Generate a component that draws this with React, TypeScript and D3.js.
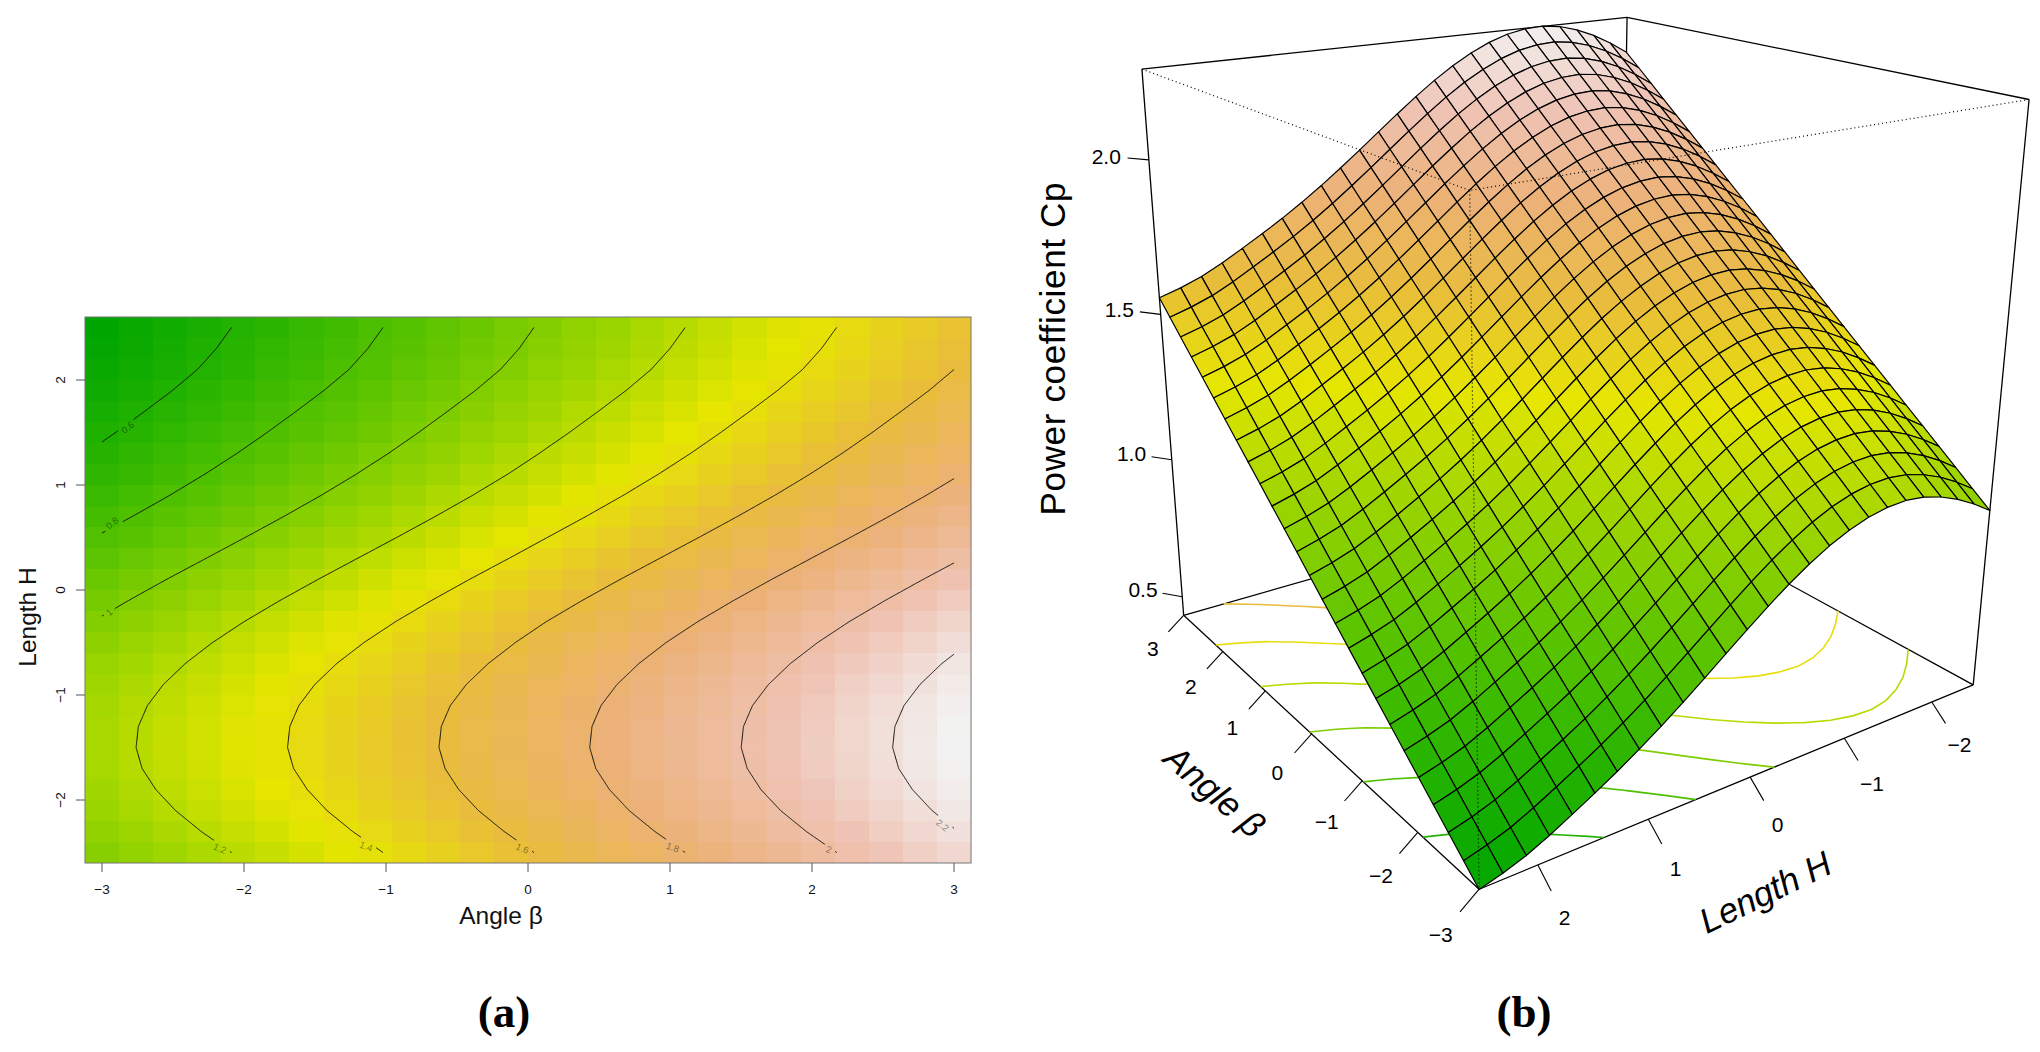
import * as d3 from "d3";

const angleValues = [-3, -2.76, -2.52, -2.28, -2.04, -1.8, -1.56, -1.32, -1.08, -0.84, -0.6, -0.36, -0.12, 0.12, 0.36, 0.6, 0.84, 1.08, 1.32, 1.56, 1.8, 2.04, 2.28, 2.52, 2.76, 3];
const lengthValues = [-2.5, -2.3, -2.1, -1.9, -1.7, -1.5, -1.3, -1.1, -0.9, -0.7, -0.5, -0.3, -0.1, 0.1, 0.3, 0.5, 0.7, 0.9, 1.1, 1.3, 1.5, 1.7, 1.9, 2.1, 2.3, 2.5];
// Cp, one row per length value
const cpRows = [
  [1.029, 1.074, 1.119, 1.164, 1.209, 1.254, 1.299, 1.344, 1.389, 1.434, 1.479, 1.524, 1.569, 1.615, 1.66, 1.705, 1.75, 1.795, 1.84, 1.885, 1.93, 1.975, 2.02, 2.065, 2.11, 2.155],
  [1.069, 1.114, 1.159, 1.204, 1.249, 1.294, 1.339, 1.384, 1.429, 1.474, 1.519, 1.564, 1.609, 1.655, 1.7, 1.745, 1.79, 1.835, 1.88, 1.925, 1.97, 2.015, 2.06, 2.105, 2.15, 2.195],
  [1.103, 1.148, 1.193, 1.238, 1.283, 1.328, 1.373, 1.418, 1.463, 1.508, 1.553, 1.598, 1.643, 1.689, 1.734, 1.779, 1.824, 1.869, 1.914, 1.959, 2.004, 2.049, 2.094, 2.139, 2.184, 2.229],
  [1.129, 1.174, 1.219, 1.264, 1.309, 1.354, 1.399, 1.444, 1.489, 1.534, 1.579, 1.624, 1.669, 1.715, 1.76, 1.805, 1.85, 1.895, 1.94, 1.985, 2.03, 2.075, 2.12, 2.165, 2.21, 2.255],
  [1.147, 1.192, 1.237, 1.282, 1.327, 1.372, 1.417, 1.462, 1.507, 1.552, 1.597, 1.642, 1.687, 1.733, 1.778, 1.823, 1.868, 1.913, 1.958, 2.003, 2.048, 2.093, 2.138, 2.183, 2.228, 2.273],
  [1.155, 1.2, 1.245, 1.29, 1.335, 1.38, 1.425, 1.47, 1.515, 1.56, 1.605, 1.65, 1.695, 1.741, 1.786, 1.831, 1.876, 1.921, 1.966, 2.011, 2.056, 2.101, 2.146, 2.191, 2.236, 2.281],
  [1.152, 1.197, 1.242, 1.287, 1.332, 1.377, 1.422, 1.467, 1.512, 1.557, 1.602, 1.647, 1.692, 1.738, 1.783, 1.828, 1.873, 1.918, 1.963, 2.008, 2.053, 2.098, 2.143, 2.188, 2.233, 2.278],
  [1.14, 1.185, 1.23, 1.275, 1.32, 1.365, 1.41, 1.455, 1.5, 1.545, 1.59, 1.635, 1.68, 1.726, 1.771, 1.816, 1.861, 1.906, 1.951, 1.996, 2.041, 2.086, 2.131, 2.176, 2.221, 2.266],
  [1.119, 1.164, 1.209, 1.254, 1.299, 1.344, 1.389, 1.434, 1.479, 1.524, 1.569, 1.614, 1.659, 1.705, 1.75, 1.795, 1.84, 1.885, 1.93, 1.975, 2.02, 2.065, 2.11, 2.155, 2.2, 2.245],
  [1.09, 1.135, 1.18, 1.225, 1.27, 1.315, 1.36, 1.405, 1.45, 1.495, 1.54, 1.585, 1.63, 1.676, 1.721, 1.766, 1.811, 1.856, 1.901, 1.946, 1.991, 2.036, 2.081, 2.126, 2.171, 2.216],
  [1.054, 1.099, 1.144, 1.189, 1.234, 1.279, 1.324, 1.369, 1.414, 1.459, 1.504, 1.549, 1.594, 1.64, 1.685, 1.73, 1.775, 1.82, 1.865, 1.91, 1.955, 2.0, 2.045, 2.09, 2.135, 2.18],
  [1.012, 1.057, 1.102, 1.147, 1.192, 1.237, 1.282, 1.327, 1.372, 1.417, 1.462, 1.507, 1.552, 1.598, 1.643, 1.688, 1.733, 1.778, 1.823, 1.868, 1.913, 1.958, 2.003, 2.048, 2.093, 2.138],
  [0.965, 1.01, 1.055, 1.1, 1.145, 1.19, 1.235, 1.28, 1.325, 1.37, 1.415, 1.46, 1.505, 1.551, 1.596, 1.641, 1.686, 1.731, 1.776, 1.821, 1.866, 1.911, 1.956, 2.001, 2.046, 2.091],
  [0.915, 0.96, 1.005, 1.05, 1.095, 1.14, 1.185, 1.23, 1.275, 1.32, 1.365, 1.41, 1.455, 1.501, 1.546, 1.591, 1.636, 1.681, 1.726, 1.771, 1.816, 1.861, 1.906, 1.951, 1.996, 2.041],
  [0.863, 0.908, 0.953, 0.998, 1.043, 1.088, 1.133, 1.178, 1.223, 1.268, 1.313, 1.358, 1.403, 1.449, 1.494, 1.539, 1.584, 1.629, 1.674, 1.719, 1.764, 1.809, 1.854, 1.899, 1.944, 1.989],
  [0.811, 0.856, 0.901, 0.946, 0.991, 1.036, 1.081, 1.126, 1.171, 1.216, 1.261, 1.306, 1.351, 1.397, 1.442, 1.487, 1.532, 1.577, 1.622, 1.667, 1.712, 1.757, 1.802, 1.847, 1.892, 1.937],
  [0.76, 0.805, 0.85, 0.895, 0.94, 0.985, 1.03, 1.075, 1.12, 1.165, 1.21, 1.255, 1.3, 1.346, 1.391, 1.436, 1.481, 1.526, 1.571, 1.616, 1.661, 1.706, 1.751, 1.796, 1.841, 1.886],
  [0.711, 0.756, 0.801, 0.846, 0.891, 0.936, 0.981, 1.026, 1.071, 1.116, 1.161, 1.206, 1.251, 1.297, 1.342, 1.387, 1.432, 1.477, 1.522, 1.567, 1.612, 1.657, 1.702, 1.747, 1.792, 1.837],
  [0.665, 0.71, 0.755, 0.8, 0.845, 0.89, 0.935, 0.98, 1.025, 1.07, 1.115, 1.16, 1.205, 1.251, 1.296, 1.341, 1.386, 1.431, 1.476, 1.521, 1.566, 1.611, 1.656, 1.701, 1.746, 1.791],
  [0.622, 0.667, 0.712, 0.757, 0.802, 0.847, 0.892, 0.937, 0.982, 1.027, 1.072, 1.117, 1.162, 1.208, 1.253, 1.298, 1.343, 1.388, 1.433, 1.478, 1.523, 1.568, 1.613, 1.658, 1.703, 1.748],
  [0.582, 0.627, 0.672, 0.717, 0.762, 0.807, 0.852, 0.897, 0.942, 0.987, 1.032, 1.077, 1.122, 1.168, 1.213, 1.258, 1.303, 1.348, 1.393, 1.438, 1.483, 1.528, 1.573, 1.618, 1.663, 1.708],
  [0.544, 0.589, 0.634, 0.679, 0.724, 0.769, 0.814, 0.859, 0.904, 0.949, 0.994, 1.039, 1.084, 1.13, 1.175, 1.22, 1.265, 1.31, 1.355, 1.4, 1.445, 1.49, 1.535, 1.58, 1.625, 1.67],
  [0.507, 0.552, 0.597, 0.642, 0.687, 0.732, 0.777, 0.822, 0.867, 0.912, 0.957, 1.002, 1.047, 1.093, 1.138, 1.183, 1.228, 1.273, 1.318, 1.363, 1.408, 1.453, 1.498, 1.543, 1.588, 1.633],
  [0.474, 0.519, 0.564, 0.609, 0.654, 0.699, 0.744, 0.789, 0.834, 0.879, 0.924, 0.969, 1.014, 1.06, 1.105, 1.15, 1.195, 1.24, 1.285, 1.33, 1.375, 1.42, 1.465, 1.51, 1.555, 1.6],
  [0.449, 0.494, 0.539, 0.584, 0.629, 0.674, 0.719, 0.764, 0.809, 0.854, 0.899, 0.944, 0.989, 1.035, 1.08, 1.125, 1.17, 1.215, 1.26, 1.305, 1.35, 1.395, 1.44, 1.485, 1.53, 1.575],
  [0.429, 0.474, 0.519, 0.564, 0.609, 0.654, 0.699, 0.744, 0.789, 0.834, 0.879, 0.924, 0.969, 1.015, 1.06, 1.105, 1.15, 1.195, 1.24, 1.285, 1.33, 1.375, 1.42, 1.465, 1.51, 1.555],
];

const angleTicks = [-3, -2, -1, 0, 1, 2, 3];
const lengthTicks = [-2, -1, 0, 1, 2];
const cpTicks = [0.5, 1, 1.5, 2];
const contourLevels = [0.6, 0.8, 1, 1.2, 1.4, 1.6, 1.8, 2, 2.2];
const contourLabels = ["0.6", "0.8", "1", "1.2", "1.4", "1.6", "1.8", "2", "2.2"];
const labelAngle = [-2.82, -2.93, -2.95, -2.17, -1.14, -0.04, 1.02, 2.12, 2.92];
const labelLength = [1.55, 0.64, -0.21, -2.46, -2.44, -2.46, -2.45, -2.47, -2.24];
const labelRotation = [-38, -38, -40, 22, 20, 22, 20, 20, 38];
const terrain = ["#00A600", "#2DB600", "#63C600", "#A0D600", "#E6E600", "#E9BD3A", "#ECB176", "#EFC2B3", "#F2F2F2"];

const cpMin = 0.43;
const cpMax = 2.28;
const cellAngle = 0.24;
const cellLength = 0.2;
const colorOf = d3
  .scaleLinear<string>()
  .domain(terrain.map((_, i) => cpMin + ((cpMax - cpMin) * i) / (terrain.length - 1)))
  .range(terrain)
  .clamp(true);

// panel (a) scales
const xA = d3.scaleLinear().domain([-3, 3]).range([102, 954]);
const yA = d3.scaleLinear().domain([-2, 2]).range([800, 380]);

// panel (b): corners of the persp box as [angle, length, cp, px, py]
const boxCalibration = [
  [3, 2.5, cpMin, 1185, 617.4],
  [-3, 2.5, cpMin, 1478.7, 888.9],
  [-3, -2.5, cpMin, 1975, 684.6],
  [3, -2.5, cpMin, 1616, 491],
  [3, 2.5, cpMax, 1141, 70.3],
  [-3, 2.5, cpMax, 1469, 191],
  [-3, -2.5, cpMax, 2028, 99.7],
  [3, -2.5, cpMax, 1629.6, 17.6],
  [3, 2.5, 2, 1148, 159],
  [3, 2.5, 1.5, 1160, 312.7],
  [3, 2.5, 1, 1173.5, 458.7],
];

const norm = (a: number, l: number, c: number) => [a / 3, l / 2.5, (c - 1.355) / 0.925];

function fitProjection() {
  const rows: number[][] = [];
  boxCalibration.forEach(([a, l, c, px, py]) => {
    const [X, Y, Z] = norm(a, l, c);
    const u = px / 1000;
    const v = py / 1000;
    rows.push([X, Y, Z, 1, 0, 0, 0, 0, -u * X, -u * Y, -u * Z, u]);
    rows.push([0, 0, 0, 0, X, Y, Z, 1, -v * X, -v * Y, -v * Z, v]);
  });
  const n = 11;
  const m = d3.range(n).map((r) =>
    d3.range(n + 1).map((k) => d3.sum(rows, (row) => row[r] * row[k]))
  );
  for (let c = 0; c < n; c++) {
    let p = c;
    for (let r = c + 1; r < n; r++) if (Math.abs(m[r][c]) > Math.abs(m[p][c])) p = r;
    [m[c], m[p]] = [m[p], m[c]];
    for (let r = 0; r < n; r++) {
      if (r === c) continue;
      const f = m[r][c] / m[c][c];
      for (let k = c; k <= n; k++) m[r][k] -= f * m[c][k];
    }
  }
  return m.map((row, i) => row[n] / row[i]);
}
const P = fitProjection();
const project = (a: number, l: number, c: number): [number, number] => {
  const [X, Y, Z] = norm(a, l, c);
  const w = P[8] * X + P[9] * Y + P[10] * Z + 1;
  return [
    (1000 * (P[0] * X + P[1] * Y + P[2] * Z + P[3])) / w,
    (1000 * (P[4] * X + P[5] * Y + P[6] * Z + P[7])) / w,
  ];
};
const line = d3.line();

// open contour pieces in data coordinates, without d3's closing edge along the grid border
function contourPieces(level: number): [number, number][][] {
  const nx = angleValues.length;
  const ny = lengthValues.length;
  const geo = d3.contours().size([nx, ny]).contour(cpRows.flat(), level);
  const pieces: [number, number][][] = [];
  const inside = (p: number[]) => p[0] >= 0.5 - 1e-9 && p[0] <= nx - 0.5 + 1e-9 && p[1] >= 0.5 - 1e-9 && p[1] <= ny - 0.5 + 1e-9;
  geo.coordinates.forEach((poly) =>
    poly.forEach((ring) => {
      const start = ring.findIndex((p) => !inside(p));
      const seq = start < 0 ? ring : [...ring.slice(start), ...ring.slice(0, start)];
      let cur: [number, number][] = [];
      seq.forEach((p) => {
        if (inside(p)) {
          cur.push([-3 + (p[0] - 0.5) * cellAngle, -2.5 + (p[1] - 0.5) * cellLength]);
        } else {
          if (cur.length > 1) pieces.push(cur);
          cur = [];
        }
      });
      if (cur.length > 1) pieces.push(cur);
    })
  );
  return pieces;
}

// screen path of a contour with the gap R leaves for its label
function gappedPath(piece: [number, number][], lx: number, ly: number, gap: number) {
  const out: [number, number][][] = [];
  let cur: [number, number][] = [];
  for (let k = 0; k < piece.length - 1; k++) {
    const x0 = xA(piece[k][0]);
    const y0 = yA(piece[k][1]);
    const x1 = xA(piece[k + 1][0]);
    const y1 = yA(piece[k + 1][1]);
    const steps = Math.max(1, Math.ceil(Math.hypot(x1 - x0, y1 - y0)));
    for (let s = 0; s <= steps; s++) {
      const x = x0 + ((x1 - x0) * s) / steps;
      const y = y0 + ((y1 - y0) * s) / steps;
      if (Math.hypot(x - lx, y - ly) < gap) {
        if (cur.length > 1) out.push(cur);
        cur = [];
      } else cur.push([x, y]);
    }
  }
  if (cur.length > 1) out.push(cur);
  return out.map((p) => line(p)).join("");
}

const fmt = (v: number) => String(v).replace("-", "\u2212");
const sans = "'Liberation Sans', Arial, sans-serif";
const surfaceCells = d3.range(angleValues.length - 2, -1, -1).flatMap((i) =>
  d3.range(0, lengthValues.length - 1).map((j) => ({ i, j }))
);

const tickStyle = { stroke: "#000", strokeWidth: 1.1 };
const dH = 0.16;
const dB = 0.2;
const dZ = 0.045;

export default function App() {
  const floor = (a: number, l: number) => project(a, l, cpMin);
  const top = (a: number, l: number) => project(a, l, cpMax);
  const solid: [[number, number], [number, number]][] = [
    [top(3, 2.5), top(3, -2.5)],
    [top(3, -2.5), top(-3, -2.5)],
    [top(3, 2.5), floor(3, 2.5)],
    [top(-3, -2.5), floor(-3, -2.5)],
    [top(3, -2.5), floor(3, -2.5)],
    [floor(3, 2.5), floor(3, -2.5)],
    [floor(-3, -2.5), floor(3, -2.5)],
    [floor(3, 2.5), floor(-3, 2.5)],
    [floor(-3, 2.5), floor(-3, -2.5)],
  ];
  const dotted: [[number, number], [number, number]][] = [
    [top(3, 2.5), top(-3, 2.5)],
    [top(-3, -2.5), top(-3, 2.5)],
    [top(-3, 2.5), floor(-3, 2.5)],
  ];
  return (
    <svg width={2040} height={1052} style={{ position: "absolute", left: 0, top: 0, background: "#fff" }} fontFamily={sans}>
      {/* panel (a) */}
      <g shapeRendering="crispEdges">
        {cpRows.map((row, j) =>
          row.map((v, i) => (
            <rect
              key={`${i}-${j}`}
              x={xA(angleValues[i] - cellAngle / 2)}
              y={yA(lengthValues[j] + cellLength / 2)}
              width={xA(cellAngle) - xA(0)}
              height={yA(0) - yA(cellLength)}
              fill={colorOf(v)}
            />
          ))
        )}
      </g>
      {contourLevels.map((level, k) => {
        const lx = xA(labelAngle[k]);
        const ly = yA(labelLength[k]);
        return (
          <g key={level}>
            {contourPieces(level).map((piece, n) => (
              <path key={n} d={gappedPath(piece, lx, ly, contourLabels[k].length > 1 ? 10 : 6)} fill="none" stroke="#111" strokeWidth={1} />
            ))}
            <text x={lx} y={ly} fontSize={9.5} fill="#000" fillOpacity={0.45} textAnchor="middle" dominantBaseline="central" transform={`rotate(${labelRotation[k]} ${lx} ${ly})`}>
              {contourLabels[k]}
            </text>
          </g>
        );
      })}
      <rect x={xA(-3.12)} y={yA(2.6)} width={xA(3.12) - xA(-3.12)} height={yA(-2.6) - yA(2.6)} fill="none" stroke="#777" strokeWidth={1} />
      {angleTicks.map((t) => (
        <g key={t}>
          <line x1={xA(t)} x2={xA(t)} y1={yA(-2.6)} y2={yA(-2.6) + 9} stroke="#555" />
          <text x={xA(t)} y={889} fontSize={13.5} textAnchor="middle" dominantBaseline="central" fill="#111">
            {fmt(t)}
          </text>
        </g>
      ))}
      {lengthTicks.map((t) => (
        <g key={t}>
          <line x1={xA(-3.12) - 9} x2={xA(-3.12)} y1={yA(t)} y2={yA(t)} stroke="#555" />
          <text x={60} y={yA(t)} fontSize={13.5} textAnchor="middle" dominantBaseline="central" fill="#111" transform={`rotate(-90 60 ${yA(t)})`}>
            {fmt(t)}
          </text>
        </g>
      ))}
      <text x={501} y={915} fontSize={24.5} textAnchor="middle" dominantBaseline="central" fill="#111">
        Angle β
      </text>
      <text x={27} y={617} fontSize={24.5} textAnchor="middle" dominantBaseline="central" fill="#111" transform="rotate(-90 27 617)">
        Length H
      </text>
      <text x={504} y={1012} fontSize={45} fontWeight="bold" fontFamily="'Liberation Serif', serif" textAnchor="middle" dominantBaseline="central">
        (a)
      </text>

      {/* panel (b) */}
      {solid.map((s, n) => (
        <path key={n} d={line(s) || ""} stroke="#000" strokeWidth={1.3} fill="none" />
      ))}
      {contourLevels.map((level) =>
        contourPieces(level).map((piece, n) => (
          <path key={`${level}-${n}`} d={line(piece.map(([a, l]) => floor(a, l))) || ""} fill="none" stroke={colorOf(level)} strokeWidth={1.6} />
        ))
      )}
      {surfaceCells.map(({ i, j }) => {
        const a0 = angleValues[i];
        const a1 = angleValues[i + 1];
        const l0 = lengthValues[j];
        const l1 = lengthValues[j + 1];
        const v = (cpRows[j][i] + cpRows[j][i + 1] + cpRows[j + 1][i] + cpRows[j + 1][i + 1]) / 4;
        const pts = [project(a0, l0, cpRows[j][i]), project(a1, l0, cpRows[j][i + 1]), project(a1, l1, cpRows[j + 1][i + 1]), project(a0, l1, cpRows[j + 1][i])];
        return <path key={`${i}-${j}`} d={`${line(pts)}Z`} fill={colorOf(v)} stroke="#000" strokeWidth={1.2} strokeLinejoin="round" />;
      })}
      {dotted.map((s, n) => (
        <path key={n} d={line(s) || ""} stroke="#000" strokeWidth={1.2} strokeDasharray="1 3" fill="none" />
      ))}
      {angleTicks.map((t) => {
        const s = floor(t, 2.5);
        const e = project(t, 2.5 + dH, cpMin - dZ);
        const l = project(t, 2.5 + 2 * dH, cpMin - 2 * dZ);
        return (
          <g key={t}>
            <line x1={s[0]} y1={s[1]} x2={e[0]} y2={e[1]} {...tickStyle} />
            <text x={l[0]} y={l[1]} fontSize={21} textAnchor="middle" dominantBaseline="central">
              {fmt(t)}
            </text>
          </g>
        );
      })}
      {lengthTicks.map((t) => {
        const s = floor(-3, t);
        const e = project(-3 - dB, t, cpMin - dZ);
        const l = project(-3 - 2 * dB, t, cpMin - 2 * dZ);
        return (
          <g key={t}>
            <line x1={s[0]} y1={s[1]} x2={e[0]} y2={e[1]} {...tickStyle} />
            <text x={l[0]} y={l[1]} fontSize={21} textAnchor="middle" dominantBaseline="central">
              {fmt(t)}
            </text>
          </g>
        );
      })}
      {cpTicks.map((t) => {
        const s = project(3, 2.5, t);
        const e = project(3 + dB, 2.5 + dH * 0.75, t);
        const l = project(3 + 2 * dB, 2.5 + 2 * dH * 0.75, t);
        return (
          <g key={t}>
            <line x1={s[0]} y1={s[1]} x2={e[0]} y2={e[1]} {...tickStyle} />
            <text x={l[0]} y={l[1]} fontSize={21} textAnchor="middle" dominantBaseline="central">
              {t.toFixed(1)}
            </text>
          </g>
        );
      })}
      <text x={1052} y={349} fontSize={35} textAnchor="middle" dominantBaseline="central" textLength={333} transform="rotate(-90 1052 349)">
        Power coefficient Cp
      </text>
      <text x={1215} y={791} fontSize={35} fontStyle="italic" textAnchor="middle" dominantBaseline="central" transform="rotate(41 1215 791)">
        Angle β
      </text>
      <text x={1765} y={892} fontSize={35} fontStyle="italic" textAnchor="middle" dominantBaseline="central" transform="rotate(-26 1765 892)">
        Length H
      </text>
      <text x={1524} y={1012} fontSize={45} fontWeight="bold" fontFamily="'Liberation Serif', serif" textAnchor="middle" dominantBaseline="central">
        (b)
      </text>
    </svg>
  );
}
